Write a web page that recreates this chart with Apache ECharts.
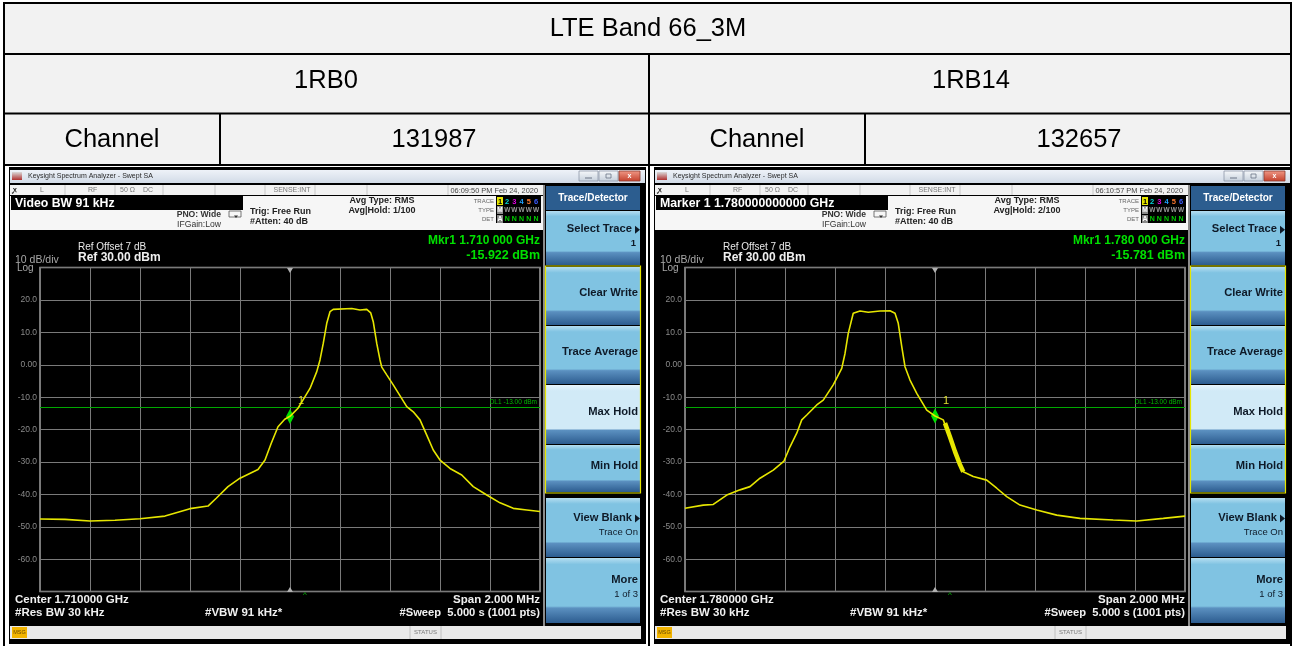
<!DOCTYPE html>
<html>
<head>
<meta charset="utf-8">
<script src="https://cdn.jsdelivr.net/npm/echarts@6/dist/echarts.min.js"></script>
<style>html,body{margin:0;padding:0;background:#fff;}#c{width:1293px;height:646px;}</style>
</head>
<body>
<div id="c"></div>
<script>
// ---------------- data ----------------
const titleText = 'LTE Band 66_3M';
const rbLabels = ['1RB0', '1RB14'];
const channelLabel = 'Channel';
const channelNumbers = ['131987', '132657'];

// frequency offset from centre (kHz) and level (dBm)
const rb0FreqKHz = [-1000,-900,-800,-700,-600,-500,-400,-328,-295,-248,-200,-128,-100,-75,-48,-21,0,32,60,80,107,120,133,147,160,173,247,280,307,323,333,347,360,367,387,413,467,493,520,547,573,600,640,687,733,787,840,893,947,1000];
const rb0LevelDbm = [-47.6,-47.7,-48.2,-48.0,-47.5,-46.7,-44.4,-43.6,-41.2,-37.6,-35.0,-32.3,-29.4,-24.2,-19.1,-16.8,-15.9,-13.4,-9.8,-7.3,-2.1,1.5,6.6,12.8,16.4,17.1,17.4,16.9,17.1,16.0,13.3,6.6,1.5,-0.7,-3.1,-6.2,-12.9,-14.5,-17.0,-21.7,-26.3,-29.4,-32.0,-34.0,-37.6,-40.2,-42.6,-44.3,-44.8,-45.3];

const rb14FreqKHz = [-1000,-927,-887,-833,-780,-740,-700,-647,-604,-580,-553,-533,-513,-473,-447,-407,-373,-360,-347,-327,-300,-267,-220,-180,-160,-147,-133,-120,-100,-73,-33,0,33,53,73,93,113,153,207,247,287,340,407,487,580,713,807,913,1000];
const rb14LevelDbm = [-44.3,-43.3,-43.1,-40.2,-38.6,-37.6,-35.0,-32.5,-29.7,-25.3,-21.1,-17.0,-15.5,-12.4,-10.9,-6.2,-1.1,3.5,9.7,15.9,16.6,16.2,16.6,16.7,15.9,12.8,5.6,-0.6,-4.7,-8.8,-14.0,-15.8,-17.0,-21.1,-25.3,-29.4,-33.0,-34.5,-35.6,-38.1,-40.7,-43.3,-44.8,-46.4,-47.4,-47.9,-48.2,-47.4,-46.7];
// thick (jittering) part of the 1RB14 trace
const rb14BandFreqKHz = [40,60,80,100,113];
const rb14BandLevelDbm = [-18.0,-22.3,-26.8,-30.8,-33.0];

const markerFreqKHz = [0, 0];
const markerLevels = [-15.922, -15.781];
const displayLineDbm = -13;
const displayLineLabel = 'DL1 -13.00 dBm';

const yTickValues = [20,10,0,-10,-20,-30,-40,-50,-60];
const yTickLabels = ['20.0','10.0','0.00','-10.0','-20.0','-30.0','-40.0','-50.0','-60.0'];

const activeFunctionTexts = ['Video BW 91 kHz', 'Marker 1 1.780000000000 GHz'];
const avgHoldTexts = ['Avg|Hold: 1/100', 'Avg|Hold: 2/100'];
const timestamps = ['06:09:50 PM Feb 24, 2020', '06:10:57 PM Feb 24, 2020'];
const markerFreqTexts = ['Mkr1 1.710 000 GHz', 'Mkr1 1.780 000 GHz'];
const markerLevelTexts = ['-15.922 dBm', '-15.781 dBm'];
const centerTexts = ['Center 1.710000 GHz', 'Center 1.780000 GHz'];

// ---------------- drawing helpers ----------------
const FONT = '"Liberation Sans", Arial, Helvetica, sans-serif';
const G = [];
function grad(c1, c2) { return {type:'linear', x:0, y:0, x2:0, y2:1, colorStops:[{offset:0,color:c1},{offset:1,color:c2}]}; }
function rect(x, y, w, h, fill, z, stroke, lw) {
  const st = {fill: fill};
  if (stroke) { st.stroke = stroke; st.lineWidth = lw || 1; }
  G.push({type:'rect', silent:true, z: z || 1, shape:{x:x, y:y, width:w, height:h}, style: st});
}
function txt(x, y, text, o) {
  o = o || {};
  G.push({type:'text', silent:true, z: o.z || 10, x:x, y:y,
    style:{text:text, fill:o.color || '#fff', font:(o.weight || 'normal') + ' ' + (o.size || 10) + 'px ' + FONT,
      textAlign:o.align || 'left', textVerticalAlign:'middle', align:o.align || 'left', verticalAlign:'middle'}});
}
function line(x1, y1, x2, y2, stroke, w, z) {
  G.push({type:'line', silent:true, z: z || 5, shape:{x1:x1, y1:y1, x2:x2, y2:y2}, style:{stroke:stroke, lineWidth:w || 1}});
}
function poly(points, fill, z) {
  G.push({type:'polygon', silent:true, z: z || 8, shape:{points:points}, style:{fill:fill}});
}

// ---------------- table ----------------
rect(4, 3, 1287, 162, '#f2f2f2', 0);
rect(4, 165, 1287, 481, '#ffffff', 0);
const TS = 25.5;
txt(648, 29, titleText, {color:'#000', size:TS, z:12, align:'center'});
txt(326, 81, rbLabels[0], {color:'#000', size:TS, z:12, align:'center'});
txt(971, 81, rbLabels[1], {color:'#000', size:TS, z:12, align:'center'});
txt(112, 140, channelLabel, {color:'#000', size:TS, z:12, align:'center'});
txt(434, 140, channelNumbers[0], {color:'#000', size:TS, z:12, align:'center'});
txt(757, 140, channelLabel, {color:'#000', size:TS, z:12, align:'center'});
txt(1079, 140, channelNumbers[1], {color:'#000', size:TS, z:12, align:'center'});

// ---------------- analyzer screenshots ----------------
function softkey(ox, y, h, l1, l2, selected, arrow) {
  const x = 546 + ox, w = 94;
  const top = selected ? '#e8f5fc' : '#b5def1';
  const body = selected ? '#d1eaf7' : '#80c3e2';
  G.push({type:'rect', silent:true, z:2, shape:{x:x, y:y, width:w, height:h},
    style:{fill:{type:'linear', x:0, y:0, x2:0, y2:1, colorStops:[
      {offset:0, color:top}, {offset:0.1, color:body}, {offset:0.74, color:body},
      {offset:0.77, color:'#5b90c0'}, {offset:1, color:'#2c5c8f'}]}}});
  const ty = l2 ? y + h * 0.33 : y + h * 0.45;
  txt(638 + ox - (arrow ? 6 : 0), ty, l1, {color:'#0e1a28', size:11.2, weight:'bold', align:'right'});
  if (l2) txt(638 + ox - (l1 === 'Select Trace' ? 2 : 0), ty + 15, l2, {color:'#0e1a28', size:9.5, align:'right', weight: (l1 === 'Select Trace') ? 'bold' : 'normal'});
  if (arrow) poly([[635 + ox, ty - 3], [640 + ox, ty + 1], [635 + ox, ty + 5]], '#0e1a28', 11);
}

function analyzer(i) {
  const ox = i * 645;
  rect(9 + ox, 167, 637, 477, '#000', 1);
  // title bar
  rect(10 + ox, 170, 635, 13, grad('#eef2f8', '#d2dbe7'), 2);
  rect(12 + ox, 172, 10, 8, grad('#d9d9d9', '#b03030'), 3);
  txt(28 + ox, 176.5, 'Keysight Spectrum Analyzer - Swept SA', {color:'#2a2a2a', size:7});
  rect(579 + ox, 171, 19, 10, grad('#f7f9fb', '#c5cfdb'), 3, '#8d98a8', 0.8);
  rect(599 + ox, 171, 19, 10, grad('#f7f9fb', '#c5cfdb'), 3, '#8d98a8', 0.8);
  rect(619 + ox, 171, 21, 10, grad('#f19a88', '#c33f2b'), 3, '#8a3a2e', 0.8);
  line(585 + ox, 178, 592 + ox, 178, '#6a7585', 1, 4);
  rect(606 + ox, 174, 5, 4, 'none', 4, '#6a7585', 0.8);
  txt(629.5 + ox, 176, 'x', {color:'#fff', size:7, weight:'bold', align:'center'});
  // settings row
  rect(10 + ox, 185, 535, 10, '#f2f2f2', 2);
  [65, 115, 163, 215, 265, 315, 367, 448].forEach(function (sx) { line(sx + ox, 185, sx + ox, 195, '#c8c8c8', 1, 3); });
  txt(13 + ox, 190, 'ꭙ', {color:'#222', size:7, weight:'bold'});
  txt(40 + ox, 190, 'L', {color:'#7a7a7a', size:7});
  txt(88 + ox, 190, 'RF', {color:'#7a7a7a', size:7});
  txt(120 + ox, 190, '50 Ω', {color:'#7a7a7a', size:7});
  txt(143 + ox, 190, 'DC', {color:'#7a7a7a', size:7});
  txt(292 + ox, 190, 'SENSE:INT', {color:'#7a7a7a', size:7, align:'center'});
  txt(538 + ox, 190.5, timestamps[i], {color:'#444', size:7.4, align:'right'});
  // info panel
  rect(10 + ox, 196, 535, 34, '#f6f6f6', 2);
  rect(11 + ox, 196, 232, 14, '#000', 3);
  txt(15 + ox, 203.5, activeFunctionTexts[i], {color:'#fff', size:12.3, weight:'bold'});
  txt(221 + ox, 215, 'PNO: Wide', {color:'#333', size:8.6, weight:'bold', align:'right'});
  txt(221 + ox, 225, 'IFGain:Low', {color:'#333', size:8.6, align:'right'});
  rect(229 + ox, 211, 12, 6, '#f6f6f6', 4, '#555', 0.8);
  poly([[234 + ox, 215.5], [238 + ox, 215.5], [236 + ox, 218]], '#333', 5);
  txt(250 + ox, 212, 'Trig: Free Run', {color:'#222', size:9, weight:'bold'});
  txt(250 + ox, 222, '#Atten: 40 dB', {color:'#222', size:9, weight:'bold'});
  txt(382 + ox, 201, 'Avg Type: RMS', {color:'#222', size:9, weight:'bold', align:'center'});
  txt(382 + ox, 211, avgHoldTexts[i], {color:'#222', size:9, weight:'bold', align:'center'});
  // trace box
  txt(494 + ox, 201, 'TRACE', {color:'#666', size:6, align:'right'});
  txt(494 + ox, 210, 'TYPE', {color:'#666', size:6, align:'right'});
  txt(494 + ox, 219, 'DET', {color:'#666', size:6, align:'right'});
  rect(496 + ox, 196, 45, 27, '#000', 3);
  rect(497 + ox, 197, 6, 8, '#e6e600', 4);
  rect(497 + ox, 206, 6, 8, '#8a8a8a', 4);
  rect(497 + ox, 215, 6, 8, '#8a8a8a', 4);
  const digitColors = ['#000', '#00d8d8', '#e000e0', '#1fa0ff', '#ff7a30', '#3c5cff'];
  for (let d = 0; d < 6; d++) {
    const dx = 500 + ox + d * 7.2;
    txt(dx, 201.5, String(d + 1), {color:digitColors[d], size:7.5, weight:'bold', align:'center', z:11});
    txt(dx, 210.5, d === 0 ? 'M' : 'W', {color:d === 0 ? '#fff' : '#9a9a9a', size:6.5, weight:'bold', align:'center', z:11});
    txt(dx, 219.5, d === 0 ? 'A' : 'N', {color:d === 0 ? '#fff' : '#00d000', size:7, weight:'bold', align:'center', z:11});
  }
  // reference level texts
  txt(78 + ox, 247, 'Ref Offset 7 dB', {color:'#e8e8e8', size:10});
  txt(78 + ox, 258, 'Ref 30.00 dBm', {color:'#f0f0f0', size:12, weight:'bold'});
  txt(15 + ox, 260, '10 dB/div', {color:'#a8a8a8', size:10.5});
  txt(17 + ox, 268, 'Log', {color:'#a8a8a8', size:10});
  txt(540 + ox, 241, markerFreqTexts[i], {color:'#00e000', size:12, weight:'bold', align:'right'});
  txt(540 + ox, 256, markerLevelTexts[i], {color:'#00e000', size:12.5, weight:'bold', align:'right'});
  // plot decorations
  poly([[287 + ox, 268], [293 + ox, 268], [290 + ox, 273]], '#b0b0b0', 9);
  poly([[287 + ox, 592], [293 + ox, 592], [290 + ox, 587]], '#b0b0b0', 9);
  txt(303 + ox, 595, '^', {color:'#00c000', size:8});
  // bottom texts
  txt(15 + ox, 600, centerTexts[i], {color:'#f0f0f0', size:11.5, weight:'bold'});
  txt(15 + ox, 613, '#Res BW 30 kHz', {color:'#f0f0f0', size:11.5, weight:'bold'});
  txt(205 + ox, 613, '#VBW 91 kHz*', {color:'#f0f0f0', size:11.5, weight:'bold'});
  txt(540 + ox, 600, 'Span 2.000 MHz', {color:'#f0f0f0', size:11.5, weight:'bold', align:'right'});
  txt(540 + ox, 613, '#Sweep  5.000 s (1001 pts)', {color:'#f0f0f0', size:11.2, weight:'bold', align:'right'});
  // softkeys
  rect(543 + ox, 185, 2, 441, '#8c8c8c', 2);
  rect(546 + ox, 186, 94, 24, '#2c5d8f', 2);
  txt(593 + ox, 198, 'Trace/Detector', {color:'#fff', size:10, weight:'bold', align:'center'});
  softkey(ox, 211, 54, 'Select Trace', '1', false, true);
  softkey(ox, 267, 58, 'Clear Write', null, false, false);
  softkey(ox, 326, 58, 'Trace Average', null, false, false);
  softkey(ox, 385, 59, 'Max Hold', null, true, false);
  softkey(ox, 445, 47, 'Min Hold', null, false, false);
  G.push({type:'rect', silent:true, z:6, shape:{x:545.5 + ox, y:266, width:95, height:227}, style:{fill:'none', stroke:'#e6e600', lineWidth:1.2}});
  softkey(ox, 498, 59, 'View Blank', 'Trace On', false, true);
  softkey(ox, 558, 65, 'More', '1 of 3', false, false);
  // status bar
  rect(10 + ox, 626, 631, 13, '#e9e9e9', 2);
  rect(12 + ox, 627, 15, 11, '#f2b400', 3);
  txt(19.5 + ox, 632.5, 'MSG', {color:'#6a4a00', size:5.5, align:'center'});
  line(410 + ox, 626, 410 + ox, 639, '#c0c0c0', 1, 3);
  line(441 + ox, 626, 441 + ox, 639, '#c0c0c0', 1, 3);
  txt(425.5 + ox, 632.5, 'STATUS', {color:'#777', size:6, align:'center'});
}
analyzer(0);
analyzer(1);

// table borders on top
const B = '#000';
line(3, 3, 1292, 3, B, 2, 30);
line(4, 54, 1291, 54, B, 2, 30);
line(4, 113.5, 1291, 113.5, B, 2, 30);
line(4, 165, 1291, 165, B, 2, 30);
line(4, 3, 4, 646, B, 2, 30);
line(1291, 3, 1291, 646, B, 2, 30);
line(649, 54, 649, 646, B, 2, 30);
line(220, 113.5, 220, 165, B, 2, 30);
line(865, 113.5, 865, 165, B, 2, 30);

// ---------------- chart ----------------
function pairs(xs, ys) { return xs.map(function (x, k) { return [x, ys[k]]; }); }
const traces = [pairs(rb0FreqKHz, rb0LevelDbm), pairs(rb14FreqKHz, rb14LevelDbm)];
const gridLefts = [40, 685];

const option = {
  animation: false,
  backgroundColor: '#ffffff',
  graphic: {elements: G},
  grid: gridLefts.map(function (l) {
    return {left:l, top:267.6, width:500, height:324, show:true, backgroundColor:'#000', borderColor:'#a0a0a0', borderWidth:1.5, z:3};
  }),
  xAxis: [0, 1].map(function (g) {
    return {type:'value', gridIndex:g, min:-1000, max:1000, interval:200, z:4,
      axisLine:{show:false}, axisTick:{show:false}, axisLabel:{show:false},
      splitLine:{show:true, lineStyle:{color:'#7a7a7a', width:1}}};
  }),
  yAxis: [0, 1].map(function (g) {
    return {type:'value', gridIndex:g, min:-70, max:30, interval:10, z:4,
      axisLine:{show:false}, axisTick:{show:false},
      axisLabel:{show:true, margin:3, color:'#8a8a8a', fontSize:8.5, fontFamily:FONT,
        formatter:function (v) { const k = yTickValues.indexOf(v); return k < 0 ? '' : yTickLabels[k]; }},
      splitLine:{show:true, lineStyle:{color:'#7a7a7a', width:1}}};
  }),
  series: [0, 1].map(function (g) {
    return {
      type:'line', xAxisIndex:g, yAxisIndex:g, data:traces[g], showSymbol:false, symbol:'none', z:6, silent:true,
      lineStyle:{color:'#e6e600', width:1.6},
      markLine:{silent:true, symbol:'none', animation:false,
        lineStyle:{color:'#00a800', width:1, type:'solid'},
        label:{show:true, position:'insideEndTop', formatter:displayLineLabel, color:'#00b800', fontSize:6.5, fontFamily:FONT, distance:[3, 1]},
        data:[{yAxis:displayLineDbm}]},
      markPoint:{silent:true, animation:false, symbol:'diamond', symbolSize:[8, 15],
        itemStyle:{color:'#00e000'},
        label:{show:true, formatter:'1', position:'right', offset:[-1, -15], color:'#e0e030', fontSize:11, fontFamily:FONT},
        data:[{coord:[markerFreqKHz[g], markerLevels[g]]}]}
    };
  }).concat([{
    type:'line', xAxisIndex:1, yAxisIndex:1, data:pairs(rb14BandFreqKHz, rb14BandLevelDbm), showSymbol:false, symbol:'none', z:5, silent:true,
    lineStyle:{color:'#e6e600', width:4.5}
  }])
};

const chart = echarts.init(document.getElementById('c'), null, {renderer:'canvas', width:1293, height:646});
chart.setOption(option);
</script>
</body>
</html>
